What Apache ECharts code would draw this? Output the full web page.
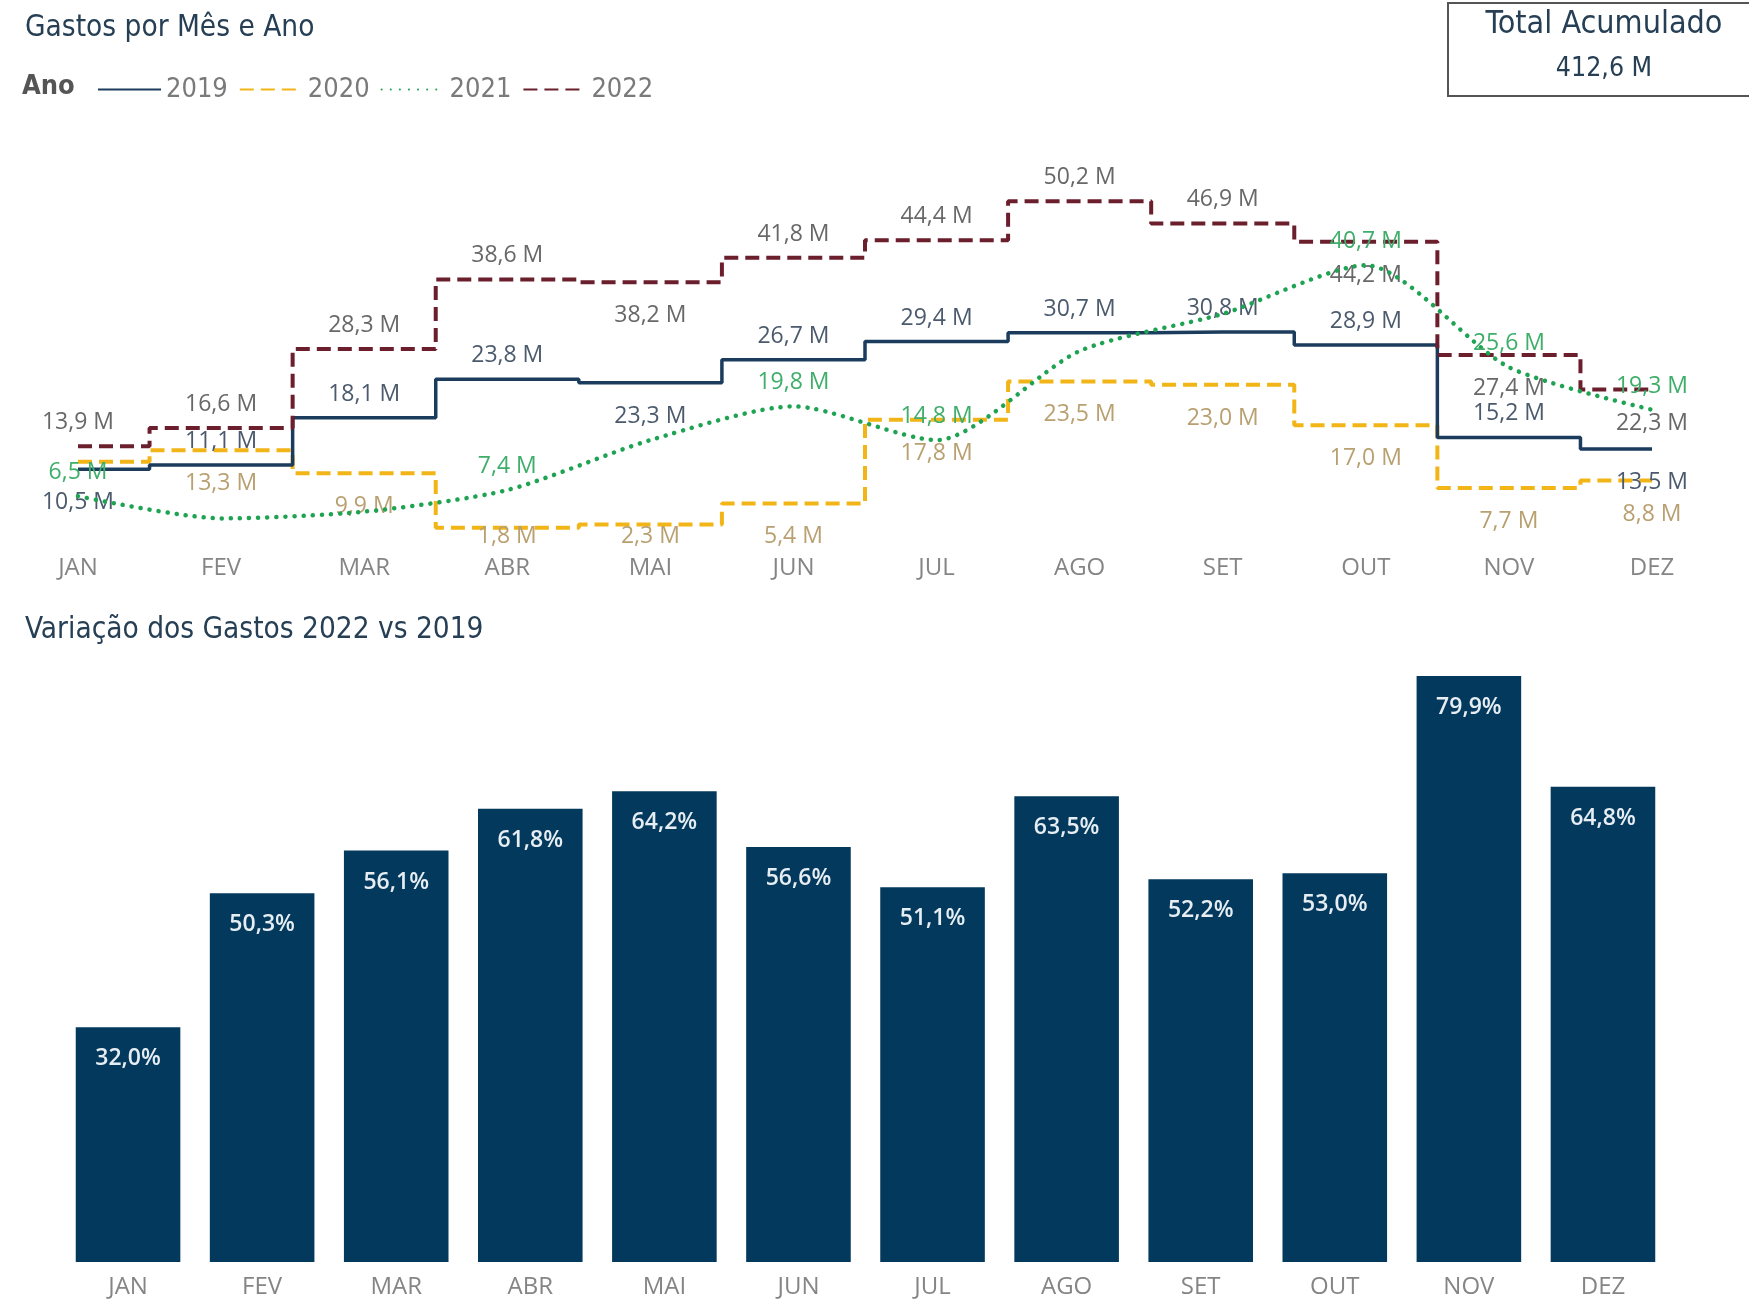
<!DOCTYPE html>
<html>
<head>
<meta charset="utf-8">
<script src="https://cdn.jsdelivr.net/npm/echarts@6/dist/echarts.min.js"></script>
<style>
html, body { margin: 0; padding: 0; background: #fff; }
#main { width: 1749px; height: 1301px; }
</style>
</head>
<body>
<div id="main"></div>
<script>
'use strict';
var meses = ['JAN', 'FEV', 'MAR', 'ABR', 'MAI', 'JUN', 'JUL', 'AGO', 'SET', 'OUT', 'NOV', 'DEZ'];
var anos = ['2019', '2020', '2021', '2022'];
var gastos2019 = [10.5, 11.1, 18.1, 23.8, 23.3, 26.7, 29.4, 30.7, 30.8, 28.9, 15.2, 13.5];
var gastos2020 = [11.6, 13.3, 9.9, 1.8, 2.3, 5.4, 17.8, 23.5, 23.0, 17.0, 7.7, 8.8];
var gastos2021 = [6.5, 3.2, 4.2, 7.4, 14.8, 19.8, 14.8, 28.0, 33.5, 40.7, 25.6, 19.3];
var gastos2022 = [13.9, 16.6, 28.3, 38.6, 38.2, 41.8, 44.4, 50.2, 46.9, 44.2, 27.4, 22.3];
var variacao = [32.0, 50.3, 56.1, 61.8, 64.2, 56.6, 51.1, 63.5, 52.2, 53.0, 79.9, 64.8];
var totalAcumulado = '412,6 M';

// onde fica cada rótulo (acima / abaixo) e quais aparecem
var pos2019 = ['bottom', 'top', 'top', 'top', 'bottom', 'top', 'top', 'top', 'top', 'top', 'top', 'bottom'];
var pos2022 = ['top', 'top', 'top', 'top', 'bottom', 'top', 'top', 'top', 'top', 'bottom', 'bottom', 'bottom'];
var mostra2020 = [0, 1, 1, 1, 1, 1, 1, 1, 1, 1, 1, 1];
var mostra2021 = [1, 0, 0, 1, 0, 1, 1, 0, 0, 1, 1, 1];

var fonteTitulo = "'DejaVu Sans Condensed', 'Liberation Sans Narrow', sans-serif";
var fonteTexto = "'Open Sans', 'Noto Sans', sans-serif";
var invisivel = 'rgba(0,0,0,0)';

function fmtM(v) { return v.toFixed(1).replace('.', ',') + ' M'; }

function comRotulos(valores, posicoes, mostrar, posPadrao) {
	return valores.map(function (v, i) {
		var pos = posicoes ? posicoes[i] : posPadrao;
		return {
			value: v,
			label: {
				show: mostrar ? !!mostrar[i] : true,
				position: pos,
				distance: pos === 'top' ? 11 : 21
			}
		};
	});
}

var rotuloBase = {
	fontFamily: fonteTexto,
	fontSize: 23,
	formatter: function (p) { return fmtM(p.value); }
};

// símbolo transparente: só serve para ancorar os rótulos
var simbolo = {symbol: 'circle', symbolSize: 2, showSymbol: true};

var eixoX = {
	axisLine: {show: false}, axisTick: {show: false}, splitLine: {show: false}
};

var myChart = echarts.init(document.getElementById('main'));
var option = {
	animation: false,
	backgroundColor: '#ffffff',
	title: [
		{
			text: 'Gastos por Mês e Ano',
			left: 20, top: 8,
			textStyle: {fontFamily: fonteTitulo, fontSize: 29.5, fontWeight: 'normal', color: '#263f55'}
		},
		{
			text: 'Variação dos Gastos 2022 vs 2019',
			left: 20, top: 610,
			textStyle: {fontFamily: fonteTitulo, fontSize: 29.5, fontWeight: 'normal', color: '#263f55'}
		}
	],
	legend: {
		data: anos,
		left: 92, top: 71,
		itemWidth: 63, itemHeight: 14, itemGap: 11,
		itemStyle: {opacity: 0},
		textStyle: {fontFamily: fonteTitulo, fontSize: 27, color: '#7a7a7a', padding: [0, 0, 0, 0]}
	},
	graphic: [
		{
			type: 'text', left: 22, top: 73,
			style: {text: 'Ano', font: 'bold 27px ' + fonteTitulo, fill: '#555555'}
		},
		{
			type: 'rect',
			shape: {x: 1448, y: 3, width: 320, height: 93},
			style: {fill: 'none', stroke: '#555555', lineWidth: 2}
		},
		{
			type: 'text', x: 1604, y: 25,
			style: {text: 'Total Acumulado', font: '32px ' + fonteTitulo, fill: '#263f55', align: 'center', verticalAlign: 'middle'}
		},
		{
			type: 'text', x: 1604, y: 69,
			style: {text: totalAcumulado, font: '26.5px ' + fonteTitulo, fill: '#263f55', align: 'center', verticalAlign: 'middle'}
		}
	],
	grid: [
		{left: 78, right: 97, top: 168.75, bottom: 761},
		{left: 61, right: 79, top: 602, bottom: 39}
	],
	xAxis: [
		Object.assign({
			type: 'category', gridIndex: 0, data: meses, boundaryGap: false,
			axisLabel: {fontFamily: fonteTexto, fontSize: 24, color: '#858585', margin: 16}
		}, eixoX),
		Object.assign({
			type: 'category', gridIndex: 1, data: meses,
			axisLabel: {fontFamily: fonteTexto, fontSize: 24, color: '#858585', margin: 13}
		}, eixoX)
	],
	yAxis: [
		{type: 'value', gridIndex: 0, min: 0, max: 55, show: false},
		{type: 'value', gridIndex: 1, min: 0, max: 90, show: false}
	],
	series: [
		Object.assign({
			name: '2019', type: 'line', step: 'middle',
			data: comRotulos(gastos2019, pos2019, null),
			lineStyle: {color: '#1b3c5c', width: 3.5},
			itemStyle: {color: invisivel},
			label: Object.assign({}, rotuloBase, {color: '#4b5a6c'}),
			z: 3
		}, simbolo),
		Object.assign({
			name: '2020', type: 'line', step: 'middle',
			data: comRotulos(gastos2020, null, mostra2020, 'bottom'),
			lineStyle: {color: '#f2b517', width: 4, type: [14, 7]},
			itemStyle: {color: invisivel},
			label: Object.assign({}, rotuloBase, {color: '#b9a071'}),
			// rótulos não descem abaixo da área do gráfico (como no Power BI)
			labelLayout: function (params) {
				var r = params.labelRect;
				var limite = 536 - r.height / 2;
				return {x: r.x, y: Math.min(r.y, limite), align: 'left', verticalAlign: 'top'};
			},
			z: 2
		}, simbolo),
		Object.assign({
			name: '2021', type: 'line', smooth: 0.25,
			data: comRotulos(gastos2021, null, mostra2021, 'top'),
			lineStyle: {color: '#1ea352', width: 4.5, type: [0.1, 9], cap: 'round'},
			itemStyle: {color: invisivel},
			label: Object.assign({}, rotuloBase, {color: '#3fae6a'}),
			z: 4
		}, simbolo),
		Object.assign({
			name: '2022', type: 'line', step: 'middle',
			data: comRotulos(gastos2022, pos2022, null),
			lineStyle: {color: '#6b1e2c', width: 4, type: [14, 7]},
			itemStyle: {color: invisivel},
			label: Object.assign({}, rotuloBase, {color: '#686868'}),
			z: 3
		}, simbolo),
		{
			name: 'Variação', type: 'bar', xAxisIndex: 1, yAxisIndex: 1,
			data: variacao, barWidth: '78%',
			itemStyle: {color: '#03395c'},
			label: {
				show: true, position: 'insideTop', distance: 20,
				fontFamily: fonteTexto, fontSize: 23, fontWeight: 600, color: '#e6edf3',
				formatter: function (p) { return p.value.toFixed(1).replace('.', ',') + '%'; }
			}
		}
	]
};
myChart.setOption(option);
</script>
</body>
</html>
